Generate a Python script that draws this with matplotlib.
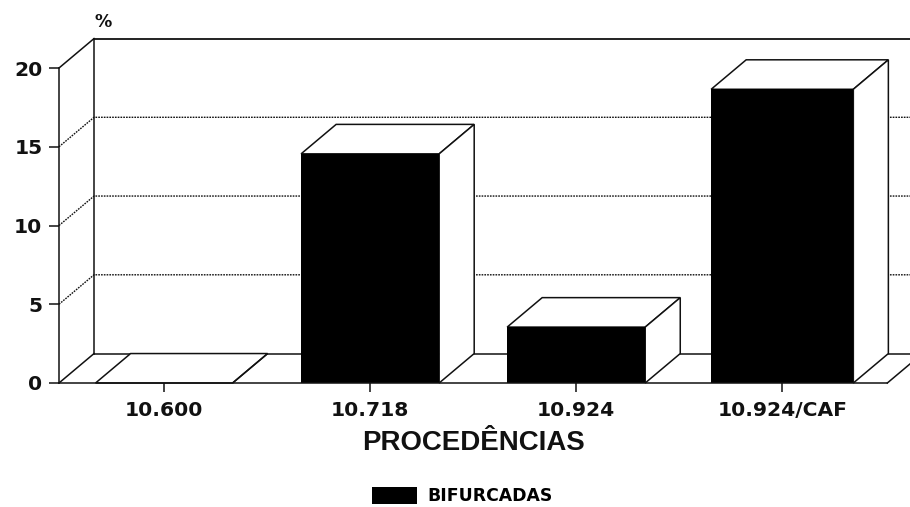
import matplotlib
matplotlib.use("Agg")
import matplotlib.pyplot as plt
from matplotlib.patches import Polygon

categories = ["10.600", "10.718", "10.924", "10.924/CAF"]
values = [0.0, 14.55, 3.55, 18.65]
series_name = "BIFURCADAS"
y_ticks = [0, 5, 10, 15, 20]
x_label = "PROCEDÊNCIAS"
y_unit = "%"

W, H = 910, 507
fig = plt.figure(figsize=(W / 100, H / 100), dpi=100, facecolor="white")
ax = fig.add_axes([59 / W, (H - 383) / H, (W - 59) / W, 315 / H])
xmin, xmax = -0.51, 3.62
ax.set_xlim(xmin, xmax)
ax.set_ylim(0, 20)
ax.patch.set_visible(False)

dx, dy = 0.17, 1.87   # oblique depth of the 3-D box
lw = 1.1
ink = "#111111"
widths = [0.665, 0.67, 0.67, 0.69]
xs = list(range(len(categories)))

# back wall, top edge and floor
top = 20 + dy
ax.plot([xmin + dx, xmin + dx], [dy, top], color=ink, lw=lw, clip_on=False, zorder=1)
ax.plot([xmin, xmin + dx], [20, top], color=ink, lw=lw, clip_on=False, zorder=1)
ax.plot([xmin + dx, xmax], [top, top], color=ink, lw=lw + 0.2, clip_on=False, zorder=1)
ax.plot([xmin + dx, xmax], [dy, dy], color=ink, lw=lw, clip_on=False, zorder=1)
ax.plot([xmin, xmin + dx], [0, dy], color=ink, lw=lw, clip_on=False, zorder=1)
ax.plot([3.51, 3.51 + dx], [0, dy], color=ink, lw=lw, clip_on=False, zorder=1)

# dotted gridlines on the side and back walls
for t in y_ticks[1:-1]:
    ax.plot([xmin, xmin + dx, xmax], [t, t + dy, t + dy], color=ink, lw=1.0,
            ls=(0, (1.2, 0.8)), clip_on=False, zorder=1)

# oblique bars
bars = ax.bar(xs, values, width=widths, color="black", edgecolor="black",
              linewidth=0, zorder=4, clip_on=False, label=series_name)
for x, v, w in zip(xs, values, widths):
    l, r = x - w / 2, x + w / 2
    ax.add_patch(Polygon([(l, v), (l + dx, v + dy), (r + dx, v + dy), (r, v)],
                         closed=True, fc="white", ec=ink, lw=lw, zorder=3, clip_on=False))
    ax.add_patch(Polygon([(r, 0), (r + dx, dy), (r + dx, v + dy), (r, v)],
                         closed=True, fc="white", ec=ink, lw=lw, zorder=3, clip_on=False))

# axes
for s in ("top", "right"):
    ax.spines[s].set_visible(False)
ax.spines["left"].set_linewidth(lw)
ax.spines["bottom"].set_linewidth(lw)
ax.spines["left"].set_color(ink)
ax.spines["bottom"].set_color(ink)
ax.spines["bottom"].set_bounds(xmin, 3.51)
ax.spines["bottom"].set_zorder(5)

tick_font = dict(family="DejaVu Sans", weight="bold", size=14.6)
ax.set_yticks(y_ticks)
ax.set_yticklabels([str(t) for t in y_ticks], **tick_font)
ax.set_xticks(xs)
ax.set_xticklabels(categories, **tick_font)
ax.tick_params(axis="y", length=7, width=1.1, pad=5, color=ink, labelcolor=ink)
ax.tick_params(axis="x", length=6.5, width=1.1, pad=6.5, color=ink, labelcolor=ink)

ax.set_xlabel(x_label, family="Liberation Sans", weight="bold", size=19.9,
              color=ink, labelpad=7, x=(474 - 59) / (W - 59))
fig.text(103 / W, (H - 22) / H, y_unit, ha="center", va="center",
         family="DejaVu Sans", weight="bold", size=12.5, color=ink)

fig.legend(handles=[bars], labels=[series_name], frameon=False, loc="center left",
           bbox_to_anchor=(372 / W, (H - 496) / H), borderpad=0, borderaxespad=0,
           handlelength=2.6, handleheight=1.15, handletextpad=0.64,
           prop=dict(family="DejaVu Sans", weight="bold", size=12.4))

fig.savefig("out.png", dpi=100, facecolor="white")
